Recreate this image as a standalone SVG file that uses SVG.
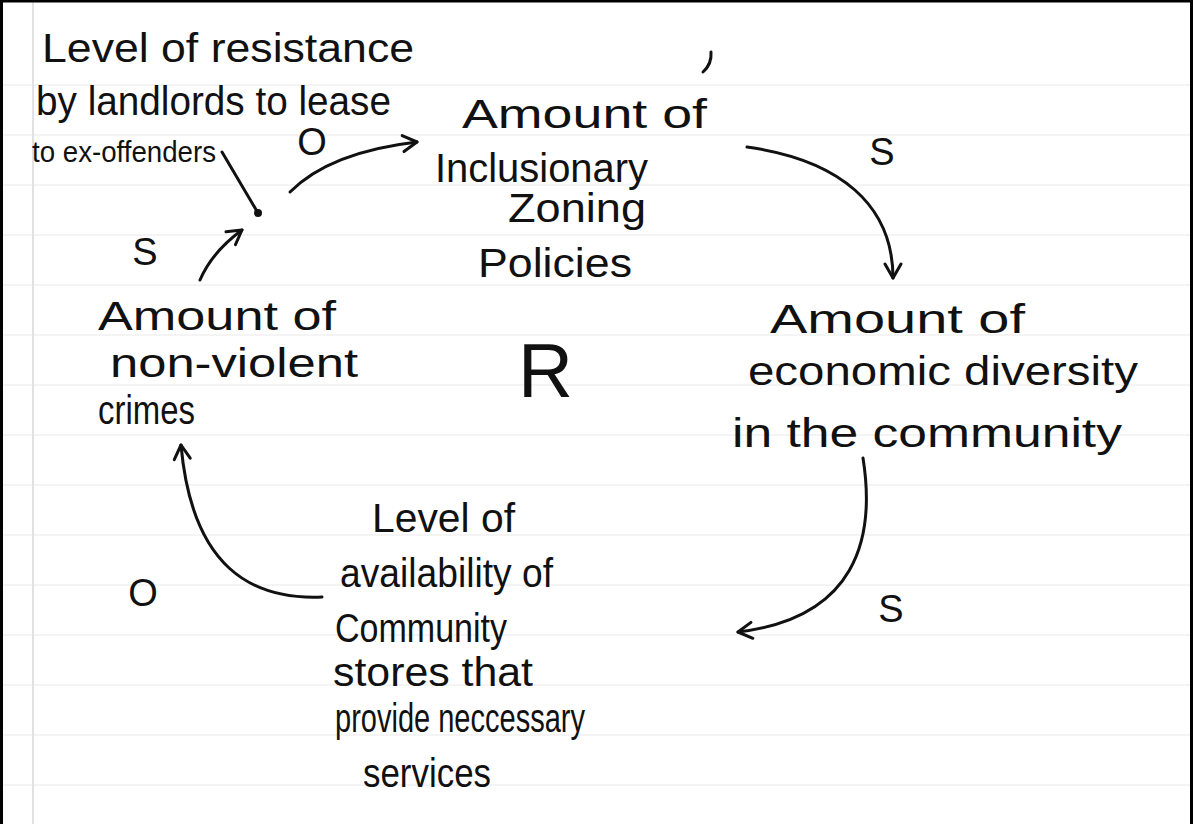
<svg xmlns="http://www.w3.org/2000/svg" width="1193" height="824" viewBox="0 0 1193 824">
<style>
text{font-family:"Liberation Sans","DejaVu Sans",sans-serif;fill:#111;}
.n{font-size:40px;}
.lab{font-size:38px;}
.ink{fill:none;stroke:#111;stroke-width:3;stroke-linecap:round;stroke-linejoin:round;}
.rule{stroke:#f1f1f1;stroke-width:1.5;}
</style>
<defs>
<marker id="ah" viewBox="0 0 20 20" refX="18" refY="10" markerWidth="20" markerHeight="20" markerUnits="userSpaceOnUse" orient="auto">
<path d="M4,2 L18,10 L4,18" fill="none" stroke="#111" stroke-width="3" stroke-linecap="round" stroke-linejoin="round"/>
</marker>
</defs>
<rect width="1193" height="824" fill="#fff"/>
<g id="paper">
<path class="rule" d="M0,85H1190M0,135H1190M0,185H1190M0,235H1190M0,285H1190M0,335H1190M0,385H1190M0,435H1190M0,485H1190M0,535H1190M0,585H1190M0,635H1190M0,685H1190M0,735H1190M0,785H1190"/>
<path d="M33,0V824" stroke="#e2e2e2" stroke-width="2"/>
<path d="M1.5,824V1H1191.5V824" fill="none" stroke="#000" stroke-width="3"/>
<path class="ink" d="M711,52 Q712,64 703,72"/>
</g>
<g id="connectors">
<path class="ink" d="M222,152 L258,213"/>
<circle cx="258" cy="213" r="4" fill="#111"/>
<path class="ink" d="M290,192 Q330,152 417,142" marker-end="url(#ah)"/>
<path class="ink" d="M747,147 C840,160 893,205 893,278" marker-end="url(#ah)"/>
<path class="ink" d="M863,458 C876,540 855,618 738,632" marker-end="url(#ah)"/>
<path class="ink" d="M322,597 C252,600 192,568 181,445" marker-end="url(#ah)"/>
<path class="ink" d="M200,280 Q212,252 242,230" marker-end="url(#ah)"/>
</g>
<g id="node-resistance">
<text class="n" x="42" y="62" font-size="44" textLength="372" lengthAdjust="spacingAndGlyphs">Level of resistance</text>
<text class="n" x="36" y="115" textLength="355" lengthAdjust="spacingAndGlyphs">by landlords to lease</text>
<text x="32" y="162" font-size="30" textLength="184" lengthAdjust="spacingAndGlyphs">to ex-offenders</text>
</g>
<g id="node-zoning">
<text class="n" x="462" y="128" font-size="46" textLength="245" lengthAdjust="spacingAndGlyphs">Amount of</text>
<text class="n" x="435" y="182" textLength="213" lengthAdjust="spacingAndGlyphs">Inclusionary</text>
<text class="n" x="508" y="222" textLength="138" lengthAdjust="spacingAndGlyphs">Zoning</text>
<text class="n" x="478" y="277" textLength="154" lengthAdjust="spacingAndGlyphs">Policies</text>
</g>
<g id="node-diversity">
<text class="n" x="770" y="333" font-size="44" textLength="255" lengthAdjust="spacingAndGlyphs">Amount of</text>
<text class="n" x="748" y="385" textLength="390" lengthAdjust="spacingAndGlyphs">economic diversity</text>
<text class="n" x="732" y="447" textLength="390" lengthAdjust="spacingAndGlyphs">in the community</text>
</g>
<g id="node-stores">
<text class="n" x="372" y="532" textLength="143" lengthAdjust="spacingAndGlyphs">Level of</text>
<text class="n" x="340" y="587" font-size="39" textLength="213" lengthAdjust="spacingAndGlyphs">availability of</text>
<text class="n" x="335" y="642" font-size="38" textLength="172" lengthAdjust="spacingAndGlyphs">Community</text>
<text class="n" x="333" y="686" textLength="200" lengthAdjust="spacingAndGlyphs">stores that</text>
<text class="n" x="335" y="732" font-size="34" textLength="250" lengthAdjust="spacingAndGlyphs">provide neccessary</text>
<text class="n" x="363" y="787" font-size="37" textLength="128" lengthAdjust="spacingAndGlyphs">services</text>
</g>
<g id="node-crimes">
<text class="n" x="98" y="330" font-size="44" textLength="238" lengthAdjust="spacingAndGlyphs">Amount of</text>
<text class="n" x="110" y="377" font-size="44" textLength="248" lengthAdjust="spacingAndGlyphs">non-violent</text>
<text class="n" x="98" y="424" font-size="37" textLength="97" lengthAdjust="spacingAndGlyphs">crimes</text>
</g>
<g id="link-labels">
<text class="lab" x="312" y="155" text-anchor="middle">O</text>
<text class="lab" x="882" y="165" text-anchor="middle">S</text>
<text class="lab" x="891" y="622" text-anchor="middle">S</text>
<text class="lab" x="145" y="265" text-anchor="middle">S</text>
<text class="lab" x="143" y="606" text-anchor="middle">O</text>
</g>
<g id="loop-label">
<text x="518" y="397" font-size="76" textLength="55" lengthAdjust="spacingAndGlyphs">R</text>
</g>
</svg>
